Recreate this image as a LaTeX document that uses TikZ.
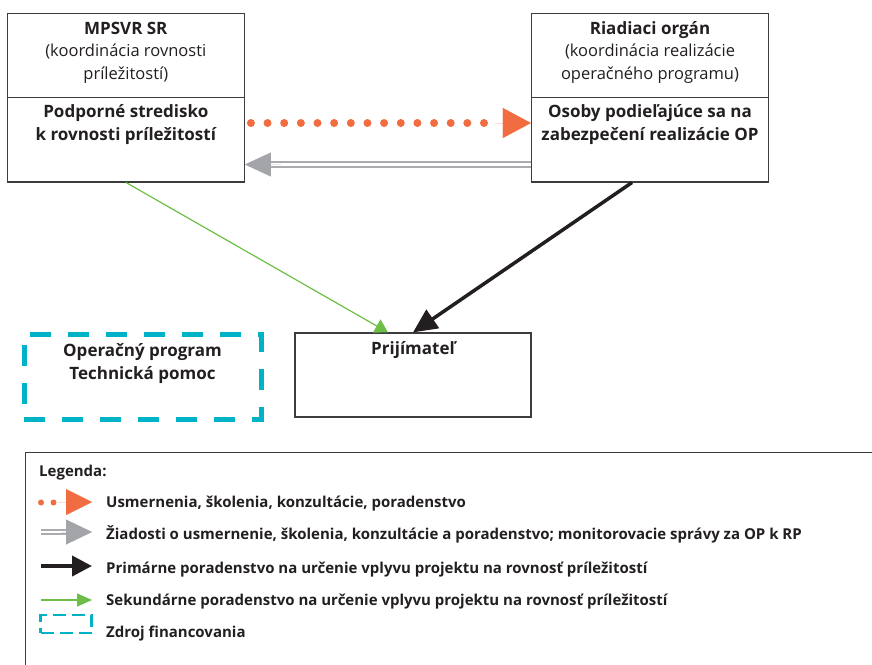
\documentclass[tikz,border=0pt]{standalone}
\usepackage{fontspec}
\setmainfont{Open Sans}
\usetikzlibrary{arrows.meta}
\definecolor{orng}{HTML}{F16C40}
\definecolor{grln}{HTML}{A9ABAE}
\definecolor{grtip}{HTML}{A3A5A9}
\definecolor{blk}{HTML}{231F20}
\definecolor{grn}{HTML}{6DBE46}
\definecolor{cyn}{HTML}{00B2C5}
\definecolor{edge}{HTML}{3C3C3C}
\begin{document}
\begin{tikzpicture}[x=1pt,y=-1pt,
  box/.style={draw=edge, line width=1.2pt, rectangle, inner sep=0pt, minimum width=237pt, minimum height=84.4pt},
  txt/.style={font=\fontsize{16.5}{22.5}\selectfont, inner sep=0pt, anchor=base, text=blk},
  txtb/.style={txt, font=\fontsize{17}{22.5}\selectfont\bfseries},
  legtxt/.style={txtb, font=\fontsize{15}{20}\selectfont\bfseries, anchor=base west},
  orngdots/.style={draw=orng, line width=8pt, line cap=round, dash pattern=on 0pt off 16.65pt},
  orngtip/.style={draw=orng, fill=orng, line width=0.01pt, -{Triangle[length=28pt,width=30pt]}},
  grdbl/.style={draw=grln, line width=1.5pt, double=white, double distance=3.5pt},
  grtipst/.style={draw=grtip, fill=grtip, line width=0.01pt, -{Triangle[length=26pt,width=24pt]}},
  blkarr/.style={draw=blk, line width=3.5pt, -{Triangle[length=24pt,width=22pt]}},
  grnarr/.style={draw=grn, line width=1.2pt, -{Triangle[length=13pt,width=15pt]}},
  cynbox/.style={draw=cyn, line width=5pt, dash pattern=on 21pt off 17pt, rectangle, inner sep=0pt}
]
\useasboundingbox (0,0) rectangle (872,664);
\clip (0,0) rectangle (872,664);

% main boxes
\node[box] (mpsvr) at (125.8,55.5) {};
\node[box] (podp) at (125.8,139.7) {};
\node[box] (ro) at (650,55.5) {};
\node[box] (osoby) at (650,139.7) {};
\node[box, minimum width=236pt, minimum height=84pt] (prij) at (413,375) {};
\node[cynbox, minimum width=237pt, minimum height=85pt] (optp) at (142.5,376.5) {};

% texts
\node[txtb] (mpsvrT1) at (125.8,34) {MPSVR SR};
\node[txt] (mpsvrT2) at (125.8,56.5) {(koordinácia rovnosti};
\node[txt] (mpsvrT3) at (125.8,79) {príležitostí)};
\node[txtb] (podpT1) at (125.8,117.5) {Podporné stredisko};
\node[txtb] (podpT2) at (125.8,140) {k rovnosti príležitostí};
\node[txtb] (roT1) at (650,34) {Riadiaci orgán};
\node[txt] (roT2) at (650,56.5) {(koordinácia realizácie};
\node[txt] (roT3) at (650,79) {operačného programu)};
\node[txtb] (osobyT1) at (650,117.5) {Osoby podieľajúce sa na};
\node[txtb] (osobyT2) at (650,140) {zabezpečení realizácie OP};
\node[txtb] (prijT) at (413,354) {Prijímateľ};
\node[txtb] (optpT1) at (142.5,356) {Operačný program};
\node[txtb] (optpT2) at (142.5,379) {Technická pomoc};

% connectors
\draw[orngdots, shorten <=6pt, shorten >=31pt] (podp.east |- 0,123) -- (osoby.west |- 0,123);
\draw[orngtip, shorten <=250pt] (podp.east |- 0,123) -- (osoby.west |- 0,123);
\draw[grdbl, shorten >=24pt] (osoby.west |- 0,164.5) -- (podp.east |- 0,164.5);
\draw[grtipst, shorten <=250pt] (osoby.west |- 0,164.5) -- (podp.east |- 0,164.5);
\draw[blkarr] (osoby.south -| 632,0) -- (prij.north -| 413,0);
\draw[grnarr] (podp.south -| 126,0) -- (prij.north -| 388,0);

% legend
\node[draw=edge, line width=1.3pt, minimum width=900pt, minimum height=300pt, anchor=north west, inner sep=0pt] (leg) at (25,452) {};
\node[legtxt] (legT0) at (39,476) {Legenda:};
\node[circle, fill=orng, minimum size=6pt, inner sep=0pt] (ld1) at (41,502.5) {};
\node[circle, fill=orng, minimum size=6pt, inner sep=0pt] (ld2) at (53.5,502.5) {};
\coordinate (l1a) at (58,502);
\coordinate (l1b) at (92,502);
\draw[orngtip, -{Triangle[length=26pt,width=26pt]}] (l1a) -- (l1b);
\coordinate (l2a) at (41,532);
\coordinate (l2b) at (92,532);
\draw[grdbl, line width=1.3pt, double distance=2.6pt, shorten >=24pt] (l2a) -- (l2b);
\draw[grtipst, -{Triangle[length=26pt,width=25pt]}, shorten <=20pt] (l2a) -- (l2b);
\coordinate (l3a) at (41,566);
\coordinate (l3b) at (92,566);
\draw[blkarr, line width=4pt, -{Triangle[length=20pt,width=20pt]}] (l3a) -- (l3b);
\coordinate (l4a) at (41,600);
\coordinate (l4b) at (92,600);
\draw[grnarr, line width=1.3pt, -{Triangle[length=15pt,width=13pt]}] (l4a) -- (l4b);
\node[draw=cyn, line width=2.8pt, dash pattern=on 13pt off 6pt, minimum width=51pt, minimum height=18pt, inner sep=0pt] (l5) at (66.3,624) {};

\node[legtxt] (legT1) at (106,507) {Usmernenia, školenia, konzultácie, poradenstvo};
\node[legtxt] (legT2) at (106,539) {Žiadosti o usmernenie, školenia, konzultácie a poradenstvo; monitorovacie správy za OP k RP};
\node[legtxt] (legT3) at (106,573) {Primárne poradenstvo na určenie vplyvu projektu na rovnosť príležitostí};
\node[legtxt] (legT4) at (106,605) {Sekundárne poradenstvo na určenie vplyvu projektu na rovnosť príležitostí};
\node[legtxt] (legT5) at (106,637) {Zdroj financovania};
\end{tikzpicture}
\end{document}
